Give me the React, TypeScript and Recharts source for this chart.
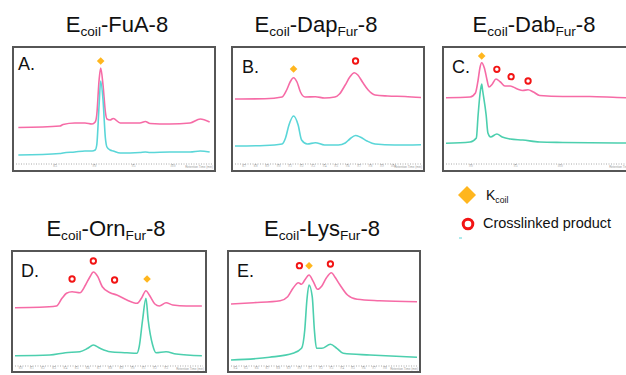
import { ComposedChart, Line, Scatter, XAxis, YAxis } from 'recharts';

const PINK = '#f66ba6';
const TEAL_CYAN = '#5ad6d8';
const TEAL_GREEN = '#4ccfae';

// A. Ecoil-FuA-8
const aTime = [8.03, 8.56, 8.6, 8.75, 8.88, 8.97, 9.01, 9.03, 9.06, 9.08, 9.11, 9.14, 9.16, 9.2, 9.24, 9.33, 9.58, 9.65, 9.71, 9.96, 10.22, 10.35, 10.47];
const aPink = [36.5, 38, 39.5, 41, 41, 40, 42, 49, 84, 96, 79, 52, 45, 44, 45.5, 41, 41, 42.5, 40.5, 40, 41, 45, 42];
const aTeal = [9, 10.5, 11, 12, 13, 13, 14, 19, 59, 83, 64, 26, 17, 14, 13, 11, 11.5, 12, 11.5, 12, 12, 13, 12];
const aKcoilTime = [9.08];
const aKcoilValue = [103];
const aTicks = [8.5, 9.0, 9.5, 10.0];

// B. Ecoil-DapFur-8
const bPinkTime = [8.62, 8.88, 9.03, 9.07, 9.1, 9.13, 9.16, 9.19, 9.23, 9.32, 9.4, 9.49, 9.53, 9.58, 9.62, 9.66, 9.69, 9.73, 9.78, 9.84, 9.95, 10.1, 10.24];
const bPink = [65, 65.3, 67, 74, 82, 86.3, 82, 72, 67, 67.3, 66, 67, 70, 79, 87, 91.3, 89, 82, 74, 69, 68, 67.5, 66.5];
const bTealTime = [8.62, 8.88, 9.03, 9.06, 9.09, 9.13, 9.17, 9.2, 9.25, 9.32, 9.4, 9.52, 9.58, 9.62, 9.67, 9.71, 9.77, 9.84, 10.01, 10.24];
const bTeal = [18, 18.5, 20, 26, 39, 48, 39, 24, 20, 21.3, 19, 19, 21, 25, 28.5, 27, 23, 20, 19, 19.3];
const bKcoilTime = [9.13];
const bKcoilValue = [95];
const bXlinkTime = [9.67];
const bXlinkValue = [103];
const bTicks = [8.7, 8.8, 8.9, 9.0, 9.1, 9.2, 9.3, 9.4, 9.5, 9.6, 9.7, 9.8, 9.9, 10.0];

// C. Ecoil-DabFur-8
const cPinkTime = [8.72, 8.99, 9.05, 9.08, 9.1, 9.12, 9.15, 9.18, 9.2, 9.24, 9.28, 9.33, 9.38, 9.44, 9.52, 9.58, 9.64, 9.7, 9.77, 10.03, 10.33, 10.64, 10.85];
const cPink = [66.3, 67, 71, 84, 96, 101.3, 96, 84, 77, 80, 85, 82, 78, 78, 75, 73.5, 74.3, 72, 68.5, 67.5, 67.5, 66.5, 66];
const cTealTime = [8.72, 8.99, 9.06, 9.08, 9.1, 9.12, 9.13, 9.17, 9.19, 9.22, 9.29, 9.35, 9.44, 9.58, 9.77, 10.03, 10.64, 10.85];
const cTeal = [20.7, 22, 26, 49, 69, 80, 74, 49, 31, 27, 30, 27, 25, 24, 22, 21.5, 21, 21];
const cKcoilTime = [9.12];
const cKcoilValue = [108];
const cXlinkTime = [9.29, 9.45, 9.64];
const cXlinkValue = [94.7, 87.3, 83];
const cTicks = [9.0, 9.5, 10.0];

// D. Ecoil-OrnFur-8
const dPinkTime = [7.95, 8.17, 8.32, 8.37, 8.41, 8.46, 8.53, 8.58, 8.62, 8.65, 8.69, 8.73, 8.8, 8.86, 8.95, 9.04, 9.08, 9.12, 9.15, 9.2, 9.24, 9.3, 9.36, 9.48, 9.62];
const dPink = [58.3, 58.7, 60, 67.7, 72.7, 74.3, 73.3, 81, 89.3, 94, 89.3, 79.3, 73.3, 71, 66, 62.7, 67.7, 75.3, 71, 62, 60, 63.3, 61, 60, 60];
const dTealTime = [7.95, 8.26, 8.4, 8.53, 8.6, 8.65, 8.71, 8.8, 8.95, 9.04, 9.06, 9.09, 9.12, 9.14, 9.18, 9.21, 9.3, 9.39, 9.62];
const dTeal = [10.3, 11, 13.3, 14.3, 17.7, 21, 17.7, 14.3, 13.3, 12.7, 19.3, 46, 67.7, 46, 21, 13.3, 14.3, 12, 10.3];
const dKcoilTime = [9.13];
const dKcoilValue = [87];
const dXlinkTime = [8.46, 8.65, 8.84];
const dXlinkValue = [87, 105, 86];
const dTicks = [8.0, 8.1, 8.2, 8.3, 8.4, 8.5, 8.6, 8.7, 8.8, 8.9, 9.0, 9.1, 9.2, 9.3];

// E. Ecoil-LysFur-8
const ePinkTime = [8.36, 8.57, 8.82, 8.89, 8.94, 8.99, 9.02, 9.05, 9.09, 9.13, 9.17, 9.21, 9.25, 9.3, 9.33, 9.38, 9.45, 9.54, 9.75, 10.1];
const ePink = [62, 63.3, 65.3, 69.3, 77.7, 83.3, 81.7, 86, 91, 84.3, 76.7, 80, 87.7, 93.3, 89.3, 81, 71, 66.7, 65.3, 64.3];
const eTealTime = [8.36, 8.72, 8.94, 9.02, 9.05, 9.07, 9.09, 9.12, 9.14, 9.16, 9.21, 9.29, 9.35, 9.41, 9.66, 10.1];
const eTeal = [6, 8.7, 12.7, 17.7, 36, 66, 81, 69.3, 36, 17.7, 17.7, 21.7, 17.7, 12.7, 11, 8.7];
const eKcoilTime = [9.09];
const eKcoilValue = [100.3];
const eXlinkTime = [9.0, 9.29];
const eXlinkValue = [100.3, 102];
const eTicks = [8.4, 8.5, 8.6, 8.7, 8.8, 8.9, 9.0, 9.1, 9.2, 9.3, 9.4, 9.5, 9.6, 9.7, 9.8];

const zip = (t: number[], v: number[]) => t.map((x, i) => ({ t: x, v: v[i] }));

const Diamond = (p: any) => (
  <polygon
    points={`${p.cx},${p.cy - 3.8} ${p.cx + 3.8},${p.cy} ${p.cx},${p.cy + 3.8} ${p.cx - 3.8},${p.cy}`}
    fill="#ffb61e"
  />
);
const Ring = (p: any) => <circle cx={p.cx} cy={p.cy} r={2.7} fill="#fff" stroke="#f21414" strokeWidth={1.9} />;

const FONT = '"Liberation Sans", Arial, sans-serif';

interface PanelProps {
  x: number;
  y: number;
  w: number;
  h: number;
  axisH: number;
  label: string;
  labelLeft: number;
  labelTop: number;
  xDomain: [number, number];
  ticks: number[];
  yMax: number;
  teal: string;
  pinkData: { t: number; v: number }[];
  tealData: { t: number; v: number }[];
  kcoil: { t: number; v: number }[];
  xlink: { t: number; v: number }[];
}

function Panel(p: PanelProps) {
  const w = p.w - 4;
  const h = p.h - 4;
  return (
    <div style={{ position: 'absolute', left: p.x, top: p.y, width: w, height: h, border: '2px solid #565656' }}>
      <ComposedChart width={w} height={h} margin={{ top: 0, right: 2, bottom: 0, left: 2 }}>
        <XAxis
          type="number"
          dataKey="t"
          domain={p.xDomain}
          ticks={p.ticks}
          interval={0}
          allowDataOverflow
          height={p.axisH}
          axisLine={{ stroke: '#aaa', strokeDasharray: '1 1.5' }}
          tickLine={{ stroke: '#aaa' }}
          tickSize={1}
          tickMargin={0}
          tick={{ fontSize: 3, fill: '#999' }}
          tickFormatter={(v: number) => v.toFixed(1)}
        />
        <YAxis type="number" domain={[0, p.yMax]} hide allowDataOverflow />
        <Line data={p.pinkData} dataKey="v" type="monotone" stroke={PINK} strokeWidth={1.6} dot={false} isAnimationActive={false} />
        <Line data={p.tealData} dataKey="v" type="monotone" stroke={p.teal} strokeWidth={1.6} dot={false} isAnimationActive={false} />
        <Scatter data={p.kcoil} dataKey="v" shape={Diamond} isAnimationActive={false} />
        <Scatter data={p.xlink} dataKey="v" shape={Ring} isAnimationActive={false} />
      </ComposedChart>
      <div
        style={{
          position: 'absolute', left: p.labelLeft, top: p.labelTop, fontFamily: FONT,
          fontSize: 18, lineHeight: '18px', color: '#111',
        }}
      >
        {p.label}
      </div>
      <div
        style={{
          position: 'absolute', right: 1, bottom: p.axisH - 5, fontFamily: FONT,
          fontSize: 3, lineHeight: '4px', color: '#999', whiteSpace: 'nowrap',
        }}
      >
        Retention Time (min)
      </div>
    </div>
  );
}

const subStyle = { fontSize: '0.62em', verticalAlign: '-0.3em' } as const;

function Title({ cx, top, children }: { cx: number; top: number; children: any }) {
  return (
    <div
      style={{
        position: 'absolute', left: cx - 110, top, width: 220, textAlign: 'center', fontFamily: FONT,
        fontSize: 22, lineHeight: '22px', color: '#111', whiteSpace: 'nowrap',
      }}
    >
      {children}
    </div>
  );
}

export default function App() {
  return (
    <div style={{ position: 'absolute', left: 0, top: 0, width: 626, height: 375, overflow: 'hidden', background: '#fff' }}>
      <Title cx={117} top={14}>
        E<span style={subStyle}>coil</span>-FuA-8
      </Title>
      <Title cx={316} top={14}>
        E<span style={subStyle}>coil</span>-Dap<span style={subStyle}>Fur</span>-8
      </Title>
      <Title cx={534} top={14}>
        E<span style={subStyle}>coil</span>-Dab<span style={subStyle}>Fur</span>-8
      </Title>
      <Title cx={106} top={218}>
        E<span style={subStyle}>coil</span>-Orn<span style={subStyle}>Fur</span>-8
      </Title>
      <Title cx={322} top={218}>
        E<span style={subStyle}>coil</span>-Lys<span style={subStyle}>Fur</span>-8
      </Title>

      <Panel
        x={12} y={46} w={204} h={126} axisH={6} label="A." labelLeft={4} labelTop={7}
        xDomain={[8.0, 10.5]} ticks={aTicks} yMax={116} teal={TEAL_CYAN}
        pinkData={zip(aTime, aPink)} tealData={zip(aTime, aTeal)}
        kcoil={zip(aKcoilTime, aKcoilValue)} xlink={[]}
      />
      <Panel
        x={231} y={46} w={194} h={126} axisH={6} label="B." labelLeft={9} labelTop={10}
        xDomain={[8.62, 10.24]} ticks={bTicks} yMax={116} teal={TEAL_CYAN}
        pinkData={zip(bPinkTime, bPink)} tealData={zip(bTealTime, bTeal)}
        kcoil={zip(bKcoilTime, bKcoilValue)} xlink={zip(bXlinkTime, bXlinkValue)}
      />
      <Panel
        x={442} y={46} w={198} h={126} axisH={6} label="C." labelLeft={8} labelTop={10}
        xDomain={[8.72, 10.85]} ticks={cTicks} yMax={116} teal={TEAL_GREEN}
        pinkData={zip(cPinkTime, cPink)} tealData={zip(cTealTime, cTeal)}
        kcoil={zip(cKcoilTime, cKcoilValue)} xlink={zip(cXlinkTime, cXlinkValue)}
      />
      <Panel
        x={11} y={250} w={196} h={123} axisH={5} label="D." labelLeft={8} labelTop={10}
        xDomain={[7.95, 9.63]} ticks={dTicks} yMax={114} teal={TEAL_GREEN}
        pinkData={zip(dPinkTime, dPink)} tealData={zip(dTealTime, dTeal)}
        kcoil={zip(dKcoilTime, dKcoilValue)} xlink={zip(dXlinkTime, dXlinkValue)}
      />
      <Panel
        x={227} y={250} w={194} h={123} axisH={5} label="E." labelLeft={8} labelTop={10}
        xDomain={[8.36, 10.1]} ticks={eTicks} yMax={114} teal={TEAL_GREEN}
        pinkData={zip(ePinkTime, ePink)} tealData={zip(eTealTime, eTeal)}
        kcoil={zip(eKcoilTime, eKcoilValue)} xlink={zip(eXlinkTime, eXlinkValue)}
      />

      {/* legend */}
      <svg style={{ position: 'absolute', left: 450, top: 180 }} width={40} height={64}>
        <polygon points="17,6 26,15 17,24 8,15" fill="#ffb61e" />
        <circle cx={18} cy={44} r={4.8} fill="#fff" stroke="#f21414" strokeWidth={3} />
        <line x1={9} y1={58} x2={12} y2={58} stroke={TEAL_CYAN} strokeWidth={1} />
      </svg>
      <div style={{ position: 'absolute', left: 486, top: 188, fontFamily: FONT, fontSize: 14, lineHeight: '14px', color: '#111' }}>
        K<span style={{ fontSize: '0.62em', verticalAlign: '-0.3em' }}>coil</span>
      </div>
      <div style={{ position: 'absolute', left: 483, top: 216, fontFamily: FONT, fontSize: 14.5, lineHeight: '14px', color: '#111', whiteSpace: 'nowrap' }}>
        Crosslinked product
      </div>
    </div>
  );
}
